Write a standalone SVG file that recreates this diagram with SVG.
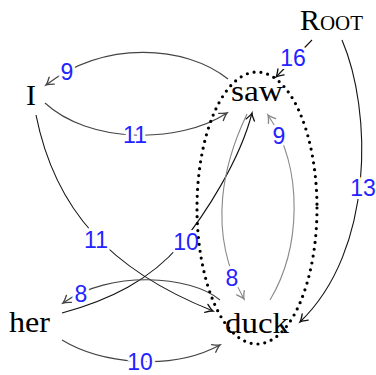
<svg xmlns="http://www.w3.org/2000/svg" width="376" height="375" viewBox="0 0 376 375">
<style>
.node{font-family:"Liberation Serif","Times New Roman",serif;font-size:30px;fill:#000}
.e{fill:none;stroke-width:1.1}
.k{stroke:#111}
.d{stroke:#444}
.g{stroke:#888}
.lab{font-family:"Liberation Sans",Arial,sans-serif;font-size:23px;fill:#2323ff;text-anchor:middle;stroke:#fff;stroke-width:6;paint-order:stroke;stroke-linejoin:round}
.dot{fill:none;stroke:#000;stroke-width:3.2;stroke-linecap:round;stroke-dasharray:0 6.9}
</style>
<defs>
<marker id="ak" markerUnits="userSpaceOnUse" markerWidth="12" markerHeight="12" viewBox="-8 -5 10 10" refX="0" refY="0" orient="auto"><path d="M-6,-3.6 Q-2,-0.6 0,0 Q-2,0.6 -6,3.6" fill="none" stroke="#111" stroke-width="1.1" stroke-linecap="round"/></marker>
<marker id="ad" markerUnits="userSpaceOnUse" markerWidth="12" markerHeight="12" viewBox="-8 -5 10 10" refX="0" refY="0" orient="auto"><path d="M-6,-3.6 Q-2,-0.6 0,0 Q-2,0.6 -6,3.6" fill="none" stroke="#444" stroke-width="1.1" stroke-linecap="round"/></marker>
<marker id="ag" markerUnits="userSpaceOnUse" markerWidth="12" markerHeight="12" viewBox="-8 -5 10 10" refX="0" refY="0" orient="auto"><path d="M-6,-3.6 Q-2,-0.6 0,0 Q-2,0.6 -6,3.6" fill="none" stroke="#888" stroke-width="1.1" stroke-linecap="round"/></marker>
</defs>
<rect width="376" height="375" fill="#fff"/>
<g id="connectors">
<path class="e d" d="M228,79 C185,45 105,40 46,85" marker-end="url(#ad)"/>
<path class="e d" d="M45,103 C88,143 178,145 227,113" marker-end="url(#ad)"/>
<path class="e k" d="M36,115 C55,210 110,270 213,311" marker-end="url(#ak)"/>
<path class="e k" d="M62,313 C110,300 150,280 180,245 C205,215 240,160 252,113" marker-end="url(#ak)"/>
<path class="e d" d="M220,300 C190,275 110,270 63,303" marker-end="url(#ad)"/>
<path class="e d" d="M62,340 C100,363 170,372 220,345" marker-end="url(#ad)"/>
<path class="e g" d="M247,114 C225,160 205,230 244,299" marker-end="url(#ag)"/>
<path class="e g" d="M270,300 C300,250 305,170 268,115" marker-end="url(#ag)"/>
<path class="e k" d="M312,40 L276,77" marker-end="url(#ak)"/>
<path class="e k" d="M342,40 C372,110 375,250 300,322" marker-end="url(#ak)"/>
<text class="lab" x="67" y="80">9</text>
<text class="lab" x="135" y="143">11</text>
<text class="lab" x="96" y="247.5">11</text>
<text class="lab" x="186" y="250">10</text>
<text class="lab" x="81" y="302">8</text>
<text class="lab" x="140" y="370">10</text>
<text class="lab" x="232" y="285.5">8</text>
<text class="lab" x="279" y="144">9</text>
<text class="lab" x="293" y="66">16</text>
<text class="lab" x="363" y="195.5">13</text>
</g>
<g id="cluster">
<ellipse class="dot" cx="257" cy="208" rx="60" ry="136"/>
</g>
<g id="node-root"><text class="node" x="300" y="30" textLength="63" lengthAdjust="spacingAndGlyphs">R<tspan font-size="21">OOT</tspan></text></g>
<g id="node-I"><text class="node" x="26" y="105">I</text></g>
<g id="node-saw"><text class="node" x="231" y="101" textLength="52" lengthAdjust="spacingAndGlyphs">saw</text></g>
<g id="node-her"><text class="node" x="9" y="332" textLength="41" lengthAdjust="spacingAndGlyphs">her</text></g>
<g id="node-duck"><text class="node" x="225" y="333" textLength="64" lengthAdjust="spacingAndGlyphs">duck</text></g>
</svg>
